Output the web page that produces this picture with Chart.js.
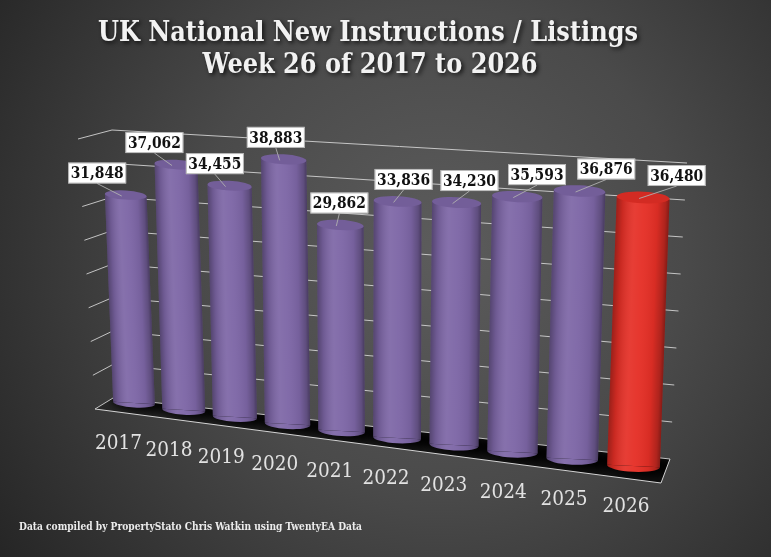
<!DOCTYPE html>
<html><head><meta charset="utf-8">
<script src="https://cdn.jsdelivr.net/npm/chart.js@4.4.1/dist/chart.umd.min.js"></script>
<style>html,body{margin:0;padding:0;background:#333;overflow:hidden}canvas{display:block}</style>
</head><body>
<canvas id="c" width="771" height="557"></canvas>
<script>
// ---- data ----
const YEARS = ['2017','2018','2019','2020','2021','2022','2023','2024','2025','2026'];
const LISTINGS = [31848, 37062, 34455, 38883, 29862, 33836, 34230, 35593, 36876, 36480];
const Y_MIN = 0, Y_MAX = 40000, Y_STEP = 5000;
const HIGHLIGHT_YEAR = '2026';
const TITLE_LINES = ['UK National New Instructions / Listings', 'Week 26 of 2017 to 2026'];
const FOOTER = 'Data compiled by PropertyStato Chris Watkin using TwentyEA Data';

// ---- style ----
const PURPLE = '#7d66a6', RED = '#e52f26';
const SERIF = "'DejaVu Serif', 'Liberation Serif', serif";

// perspective of the 3D view (u = 0..1 across the category axis)
function view(u) {
  return {
    bx: 109.7 + 482.8 * u + 72.2 * u * u,   // base centre x
    dbx: 482.8 + 144.4 * u,                  // horizontal scale
    by: 403 + 70 * (u - 0.05),               // base centre y
    ppu: 0.00653 + 0.000922 * (u - 0.05),    // px per unit
    lean: 0.044 - 0.084 * u                  // vertical convergence
  };
}
// walls: t = 0..1 of value range
const wallFrontLeft = t => [95 - 17 * t, 409 - 270 * t];
const wallBackLeft  = t => [113 - 1 * t, 398 - 268 * t];
const wallBackRight = t => [670 + 17 * t, 459 - 296 * t];
const FLOOR_FRONT_RIGHT = [661, 483];
const TILT = 0.05;

function fitText(ctx, text, cx, cy, font, maxW, align) {
  ctx.save();
  ctx.font = font;
  const w = ctx.measureText(text).width;
  const s = w > maxW ? maxW / w : 1;
  ctx.translate(cx, cy);
  ctx.scale(s, 1);
  ctx.textAlign = align || 'center';
  ctx.fillText(text, 0, 0);
  ctx.restore();
}

function barGeom(chart, el, pf) {
  const xs = chart.scales.x;
  const p = el.getProps(['x', 'y', 'base', 'width'], true);
  const u = (p.x - xs.left) / xs.width;
  const V = view(u);
  const sx = V.dbx / xs.width;
  const sy = V.ppu / pf;
  return { ...p, u, V, sx, sy };
}

const threeD = {
  id: 'threeD',
  beforeDraw(chart) {
    const ctx = chart.ctx, W = chart.width, H = chart.height;
    const g = ctx.createRadialGradient(440, 250, 0, 440, 250, 540);
    g.addColorStop(0, '#5c5c5c');
    g.addColorStop(0.45, '#4a4a4a');
    g.addColorStop(1, '#252525');
    ctx.save(); ctx.fillStyle = g; ctx.fillRect(0, 0, W, H); ctx.restore();
  },
  beforeDatasetsDraw(chart) {
    const ctx = chart.ctx;
    const ys = chart.scales.y;
    const pf = (ys.getPixelForValue(Y_MIN) - ys.getPixelForValue(Y_MAX)) / (Y_MAX - Y_MIN);
    let ticks = (ys.ticks && ys.ticks.length) ? ys.ticks.map(t => t.value) : [];
    if (!ticks.length) for (let v = Y_MIN; v <= Y_MAX; v += Y_STEP) ticks.push(v);
    const tOf = v => (v - ys.min) / (ys.max - ys.min);

    // floor
    const fl = wallFrontLeft(0), bl = wallBackLeft(0), br = wallBackRight(0), fr = FLOOR_FRONT_RIGHT;
    ctx.save();
    ctx.beginPath();
    ctx.moveTo(fl[0], fl[1]); ctx.lineTo(fr[0], fr[1]); ctx.lineTo(br[0], br[1]); ctx.lineTo(bl[0], bl[1]); ctx.closePath();
    const fg = ctx.createLinearGradient(0, 398, 0, 483);
    fg.addColorStop(0, '#2a2a2a'); fg.addColorStop(1, '#101010');
    ctx.fillStyle = fg; ctx.fill();
    ctx.clip();
    // shadows
    const meta = chart.getDatasetMeta(0);
    ctx.filter = 'blur(4px)';
    ctx.fillStyle = 'rgba(0,0,0,0.92)';
    meta.data.forEach(el => {
      const G = barGeom(chart, el, pf);
      const wA = G.width * G.sx;
      ctx.beginPath();
      ctx.ellipse(G.V.bx + 0.15 * wA, G.V.by - 1, 0.72 * wA, 0.22 * wA, 0.12, 0, Math.PI * 2);
      ctx.fill();
    });
    ctx.restore();

    // grid lines on walls
    ctx.save();
    ctx.strokeStyle = 'rgba(210,210,210,0.9)';
    ctx.lineWidth = 1;
    ticks.forEach(v => {
      const t = tOf(v);
      const a = wallFrontLeft(t), b = wallBackLeft(t), c = wallBackRight(t);
      ctx.beginPath();
      ctx.moveTo(a[0], a[1]); ctx.lineTo(b[0], b[1]); ctx.lineTo(c[0], c[1]);
      ctx.stroke();
    });
    // floor front edge
    ctx.strokeStyle = 'rgba(220,220,220,0.95)';
    ctx.beginPath(); ctx.moveTo(fl[0], fl[1]); ctx.lineTo(fr[0], fr[1]); ctx.lineTo(br[0], br[1]); ctx.stroke();
    ctx.restore();

    // cylinders
    meta.data.forEach(el => {
      const G = barGeom(chart, el, pf);
      const { x, y, base, width, V, sx, sy } = G;
      const half = width / 2;
      const ry = 0.11 * width * sx / sy;
      const col = el.options.backgroundColor;
      ctx.save();
      ctx.transform(sx, TILT, V.lean * sy, sy, V.bx - sx * x - V.lean * sy * base, V.by - sy * base - TILT * x);
      // rounded bottom
      ctx.beginPath(); ctx.ellipse(x, base, half, ry, 0, 0, Math.PI); ctx.fillStyle = col; ctx.fill();
      // library bar body
      el.draw(ctx);
      // shading
      const sg = ctx.createLinearGradient(x - half, 0, x + half, 0);
      sg.addColorStop(0, 'rgba(0,0,0,0.32)');
      sg.addColorStop(0.12, 'rgba(0,0,0,0.12)');
      sg.addColorStop(0.35, 'rgba(255,255,255,0.07)');
      sg.addColorStop(0.52, 'rgba(255,255,255,0.04)');
      sg.addColorStop(0.78, 'rgba(0,0,0,0.06)');
      sg.addColorStop(0.93, 'rgba(0,0,0,0.24)');
      sg.addColorStop(1, 'rgba(0,0,0,0.42)');
      ctx.beginPath();
      ctx.moveTo(x - half, y); ctx.lineTo(x + half, y); ctx.lineTo(x + half, base);
      ctx.ellipse(x, base, half, ry, 0, 0, Math.PI);
      ctx.closePath();
      ctx.fillStyle = sg; ctx.fill();
      // top cap
      ctx.beginPath(); ctx.ellipse(x, y, half, ry, 0, 0, Math.PI * 2);
      ctx.fillStyle = col; ctx.fill();
      ctx.fillStyle = 'rgba(0,0,0,0.08)'; ctx.fill();
      ctx.restore();
    });
    return false;
  },
  afterDraw(chart) {
    const ctx = chart.ctx;
    const ys = chart.scales.y;
    const pf = (ys.getPixelForValue(Y_MIN) - ys.getPixelForValue(Y_MAX)) / (Y_MAX - Y_MIN);
    const meta = chart.getDatasetMeta(0);
    const labels = chart.data.labels;
    const vals = chart.data.datasets[0].data;

    // category labels
    ctx.save();
    ctx.fillStyle = '#e2e2e2';
    ctx.textBaseline = 'middle';
    meta.data.forEach((el, i) => {
      const G = barGeom(chart, el, pf);
      fitText(ctx, labels[i], G.V.bx - 16 + 9 * G.u, G.V.by + 41, '20px ' + SERIF, 47);
    });
    ctx.restore();

    // value labels
    meta.data.forEach((el, i) => {
      const G = barGeom(chart, el, pf);
      const Hh = G.sy * (G.base - G.y);
      const tx = G.V.bx - G.V.lean * Hh, ty = G.V.by - Hh;
      const cx = tx + (-32 + 69 * G.u), cy = ty - 22;
      const bw = 58, bh = 21;
      ctx.save();
      // leader
      const lx0 = cx, ly0 = cy + bh / 2, lx1 = tx - 4, ly1 = ty + 1;
      if (Math.hypot(lx1 - lx0, ly1 - ly0) > 6) {
        ctx.strokeStyle = 'rgba(175,175,175,0.9)'; ctx.lineWidth = 1;
        ctx.beginPath(); ctx.moveTo(lx0, ly0); ctx.lineTo(lx1, ly1); ctx.stroke();
      }
      ctx.fillStyle = '#ffffff';
      ctx.strokeStyle = 'rgba(140,140,140,0.7)'; ctx.lineWidth = 0.8;
      ctx.fillRect(cx - bw / 2, cy - bh / 2, bw, bh);
      ctx.strokeRect(cx - bw / 2 + 0.5, cy - bh / 2 + 0.5, bw - 1, bh - 1);
      ctx.fillStyle = '#111';
      ctx.textBaseline = 'middle';
      fitText(ctx, Number(vals[i]).toLocaleString('en-GB'), cx, cy + 1, 'bold 17px ' + SERIF, 53);
      ctx.restore();
    });

    // title
    ctx.save();
    ctx.font = 'bold 28px ' + SERIF;
    const s = 540 / ctx.measureText(TITLE_LINES[0]).width;
    ctx.fillStyle = '#f2f2f2';
    ctx.shadowColor = 'rgba(0,0,0,0.75)'; ctx.shadowBlur = 4; ctx.shadowOffsetX = 2; ctx.shadowOffsetY = 2;
    ctx.textAlign = 'center'; ctx.textBaseline = 'alphabetic';
    [[TITLE_LINES[0], 368, 41], [TITLE_LINES[1], 370, 73]].forEach(([t, x, y]) => {
      ctx.save(); ctx.translate(x, y); ctx.scale(s, 1); ctx.fillText(t, 0, 0); ctx.restore();
    });
    ctx.restore();

    // footer
    ctx.save();
    ctx.fillStyle = '#ececec';
    ctx.textBaseline = 'alphabetic';
    fitText(ctx, FOOTER, 19, 530, 'bold 11px ' + SERIF, 343, 'left');
    ctx.restore();
  }
};

new Chart(document.getElementById('c'), {
  type: 'bar',
  data: {
    labels: YEARS,
    datasets: [{
      label: 'New Instructions / Listings',
      data: LISTINGS,
      backgroundColor: YEARS.map(y => y === HIGHLIGHT_YEAR ? RED : PURPLE),
      borderWidth: 0,
      barPercentage: 0.85,
      categoryPercentage: 1.0
    }]
  },
  options: {
    responsive: false,
    animation: false,
    devicePixelRatio: 1,
    layout: { padding: { left: 95, right: 100, top: 130, bottom: 157 } },
    plugins: { legend: { display: false }, title: { display: false }, tooltip: { enabled: false } },
    scales: {
      x: { display: false, offset: true },
      y: { display: false, min: Y_MIN, max: Y_MAX, ticks: { stepSize: Y_STEP } }
    }
  },
  plugins: [threeD]
});
</script>
</body></html>
